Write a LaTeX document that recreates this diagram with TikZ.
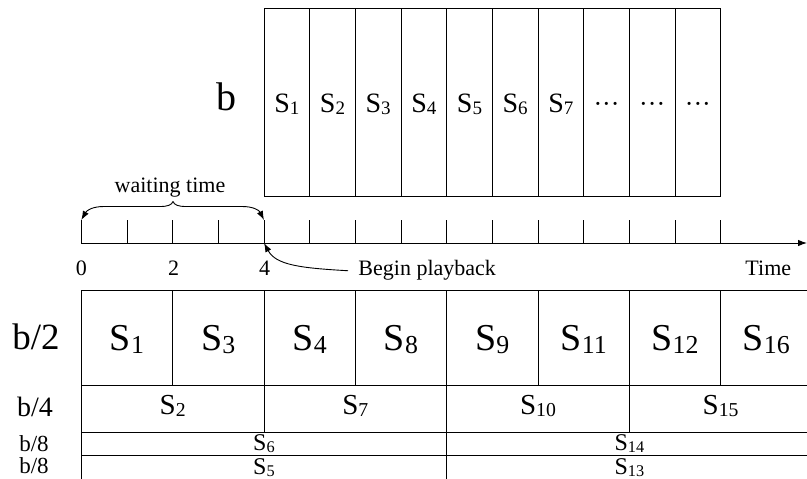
\documentclass[tikz,border=0pt]{standalone}
\usepackage{fontspec}
\setmainfont{Liberation Serif}
\usepackage{graphicx}
\usetikzlibrary{arrows.meta}

% segment label S with a slightly lowered, reduced index
\newcommand{\seg}[1]{S\raisebox{-0.09em}{\scalebox{0.68}{#1}}}
\newcommand{\fsz}[1]{\fontsize{#1}{#1}\selectfont}

\begin{document}
\begin{tikzpicture}[x=1pt,y=-1pt,line width=0.9pt,
  txt/.style={anchor=base,inner sep=0pt},
  toplbl/.style={txt,font=\fsz{28}},
  halflbl/.style={txt,font=\fsz{38}},
  quartlbl/.style={txt,font=\fsz{29}},
  eighthlbl/.style={txt,font=\fsz{24}},
  axislbl/.style={txt,font=\fsz{22}},
  tip/.style={-{Latex[length=9pt,width=6.5pt]}}]

\useasboundingbox (0,0) rectangle (807,479);
\fill[white] (0,0) rectangle (807,479);

\def\xo{81.33}
\def\xs{45.667}

% ---------- time axis ----------
\foreach \k in {0,...,14}{
  \coordinate (t\k) at ({\xo+\k*\xs},243);
  \coordinate (u\k) at ({\xo+\k*\xs},220);
  \draw (t\k) -- (u\k);
}
\coordinate (tend) at (807,243);
\draw[tip] (t0) -- (tend);

\node[axislbl] (n0) at (81.3,275) {0};
\node[axislbl] (n2) at (173.5,275) {2};
\node[axislbl] (n4) at (264.6,275) {4};
\node[axislbl,anchor=base west] (bp) at (358,275) {Begin playback};
\node[axislbl] (tm) at (768.3,275) {Time};
\node[axislbl] (wt) at (170,192) {waiting time};

% brace over the waiting interval
\coordinate (peak) at (173,201.5);
\draw[tip] (peak) .. controls (171.5,205) and (168,206.5) .. (160,206.5)
  -- (104,206.5) .. controls (93,206.5) and (87,210) .. (u0);
\draw[tip] (peak) .. controls (174.5,205) and (178,206.5) .. (186,206.5)
  -- (242,206.5) .. controls (253,206.5) and (259,210) .. (u4);

% start of playback
\draw[tip] ([xshift=-10pt,yshift=-1pt]bp.west) .. controls (300,268) and (276,265) .. (t4);

% ---------- full-rate broadcast ----------
\node[txt,font=\fsz{40}] (bfull) at (226,110) {b};
\draw ({\xo+4*\xs},8) rectangle ({\xo+14*\xs},196);
\foreach \k in {5,...,13}{
  \draw ({\xo+\k*\xs},8) -- ({\xo+\k*\xs},196);
}
\foreach \k in {1,...,7}{
  \node[toplbl] (top\k) at ({\xo+(\k+3.5)*\xs},112) {\seg{\k}};
}
\foreach \k in {8,9,10}{
  \node[toplbl] (top\k) at ({\xo+(\k+3.5)*\xs},112) {\fsz{26}\textperiodcentered\textperiodcentered\textperiodcentered};
}

% ---------- split channels ----------
\draw (807,290.7) -- (\xo,290.7) -- (\xo,479);
\draw (\xo,385.3) -- (807,385.3);
\draw (\xo,432.5) -- (807,432.5);
\draw (\xo,455.5) -- (807,455.5);
\foreach \k in {2,4,...,14}{
  \draw ({\xo+\k*\xs},290.7) -- ({\xo+\k*\xs},385.3);
}
\foreach \k in {4,8,12}{
  \draw ({\xo+\k*\xs},385.3) -- ({\xo+\k*\xs},432.5);
}
\draw ({\xo+8*\xs},432.5) -- ({\xo+8*\xs},479);

% channel rates
\node[txt,font=\fsz{37}] (r2) at (36,349) {b/2};
\node[txt,font=\fsz{28}] (r4) at (35,416) {b/4};
\node[txt,font=\fsz{23}] (r8a) at (34,451) {b/8};
\node[txt,font=\fsz{23}] (r8b) at (34,473.5) {b/8};

% b/2 channel
\foreach \s [count=\i] in {1,3,4,8,9,11,12,16}{
  \node[halflbl] (h\i) at ({\xo+(2*\i-1)*\xs},350) {\seg{\s}};
}
% b/4 channel
\foreach \s [count=\i] in {2,7,10,15}{
  \node[quartlbl] (q\i) at ({\xo+(4*\i-2)*\xs},414) {\seg{\s}};
}
% b/8 channels
\node[eighthlbl] (e1) at ({\xo+4*\xs},450.5) {\seg{6}};
\node[eighthlbl] (e2) at ({\xo+12*\xs},450.5) {\seg{14}};
\node[eighthlbl] (e3) at ({\xo+4*\xs},474) {\seg{5}};
\node[eighthlbl] (e4) at ({\xo+12*\xs},474) {\seg{13}};
\end{tikzpicture}
\end{document}
